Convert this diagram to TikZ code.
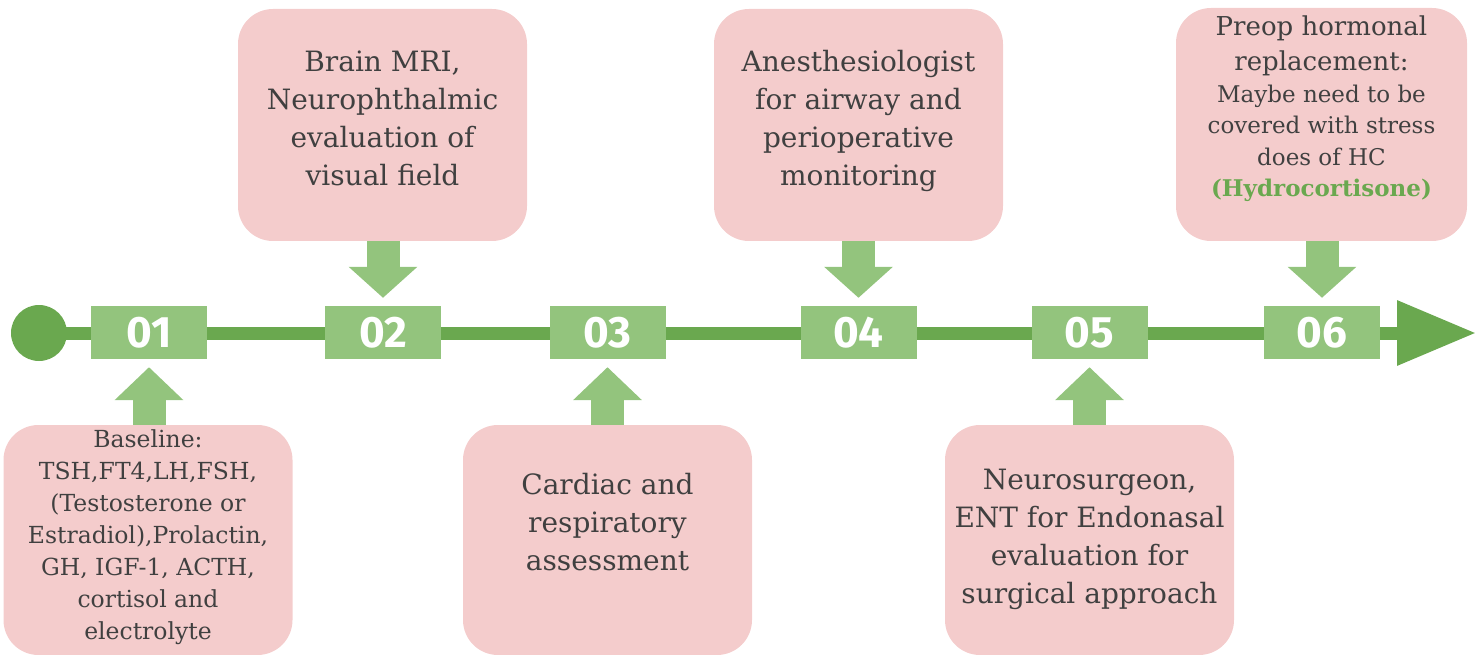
\documentclass[tikz,border=0pt]{standalone}
\usepackage{fontspec}
\setmainfont{DejaVu Serif}
\newfontfamily\numfont{Fira Sans}
\usetikzlibrary{arrows.meta,calc}
\definecolor{pinkfill}{HTML}{F4CCCC}
\definecolor{lightgreen}{HTML}{93C47D}
\definecolor{darkgreen}{HTML}{6AA84F}
\definecolor{txtgray}{HTML}{404040}
\begin{document}
\begin{tikzpicture}[x=1pt,y=-1pt,
 pinkbox/.style={fill=pinkfill, rounded corners=35pt, minimum width=289pt, minimum height=232pt, inner sep=0pt, draw=none},
 numbox/.style={fill=lightgreen, minimum width=116pt, minimum height=53pt, inner sep=0pt, text=white, font=\numfont\bfseries\fontsize{44}{44}\selectfont},
 bigtxt/.style={text=txtgray, align=center, inner sep=0pt, font=\fontsize{28}{38}\selectfont},
 midtxt/.style={text=txtgray, align=center, inner sep=0pt, font=\fontsize{26}{35}\selectfont},
 smalltxt/.style={text=txtgray, align=center, inner sep=0pt, font=\fontsize{23}{31.5}\selectfont},
 listtxt/.style={text=txtgray, align=center, inner sep=0pt, font=\fontsize{23.5}{32}\selectfont},
 upblock/.style={lightgreen, line width=33pt, -{Triangle[width=67pt,length=33pt]}},
 downblock/.style={lightgreen, line width=33pt, -{Triangle[width=67pt,length=31pt]}},
]
\useasboundingbox (0,0) rectangle (1476,655);

% timeline
\node[circle, fill=darkgreen, minimum size=56pt, inner sep=0pt] (start) at (39,333) {};
\coordinate (end) at (1476,333);
\draw[darkgreen, line width=13pt, -{Triangle[width=62pt,length=79pt]}] (start.center) -- (end);

% number boxes
\node[numbox] (n1) at (149,332.5) {01};
\node[numbox] (n2) at (383,332.5) {02};
\node[numbox] (n3) at (607.5,332.5) {03};
\node[numbox] (n4) at (858.5,332.5) {04};
\node[numbox] (n5) at (1089.5,332.5) {05};
\node[numbox] (n6) at (1322,332.5) {06};

% pink boxes
\node[pinkbox, minimum height=230pt] (b1) at (148,540) {};
\node[pinkbox] (b2) at (382.5,125) {};
\node[pinkbox, minimum height=230pt] (b3) at (607.5,540) {};
\node[pinkbox] (b4) at (858.5,125) {};
\node[pinkbox, minimum height=230pt] (b5) at (1089.5,540) {};
\node[pinkbox, minimum width=291pt, minimum height=233pt] (b6) at (1321.5,124.5) {};

% block arrows
\draw[upblock] (n1.south |- b1.north) -- ($(n1.south)+(0,8)$);
\draw[downblock] (n2.north |- b2.south) -- ($(n2.north)+(0,-8)$);
\draw[upblock] (n3.south |- b3.north) -- ($(n3.south)+(0,8)$);
\draw[downblock] (n4.north |- b4.south) -- ($(n4.north)+(0,-8)$);
\draw[upblock] (n5.south |- b5.north) -- ($(n5.south)+(0,8)$);
\draw[downblock] (n6.north |- b6.south) -- ($(n6.north)+(0,-8)$);

% texts
\node[listtxt] (t1) at (148,537) {Baseline:\\TSH,FT4,LH,FSH,\\(Testosterone or\\Estradiol),Prolactin,\\GH, IGF-1, ACTH,\\cortisol and\\electrolyte};
\node[bigtxt] (t2) at (382.5,118.5) {Brain MRI,\\Neurophthalmic\\evaluation of\\visual field};
\node[bigtxt] (t3) at (607.5,522) {Cardiac and\\respiratory\\assessment};
\node[bigtxt] (t4) at (858.5,120.5) {Anesthesiologist\\for airway and\\perioperative\\monitoring};
\node[bigtxt] (t5) at (1089.5,539.5) {Neurosurgeon,\\ENT for Endonasal\\evaluation for\\surgical approach};
\node[midtxt] (t6a) at (1321.5,45.5) {Preop hormonal\\replacement:};
\node[smalltxt] (t6b) at (1321.5,143.5) {Maybe need to be\\covered with stress\\does of HC\\\textcolor{darkgreen}{\bfseries(Hydrocortisone)}};
\end{tikzpicture}
\end{document}
